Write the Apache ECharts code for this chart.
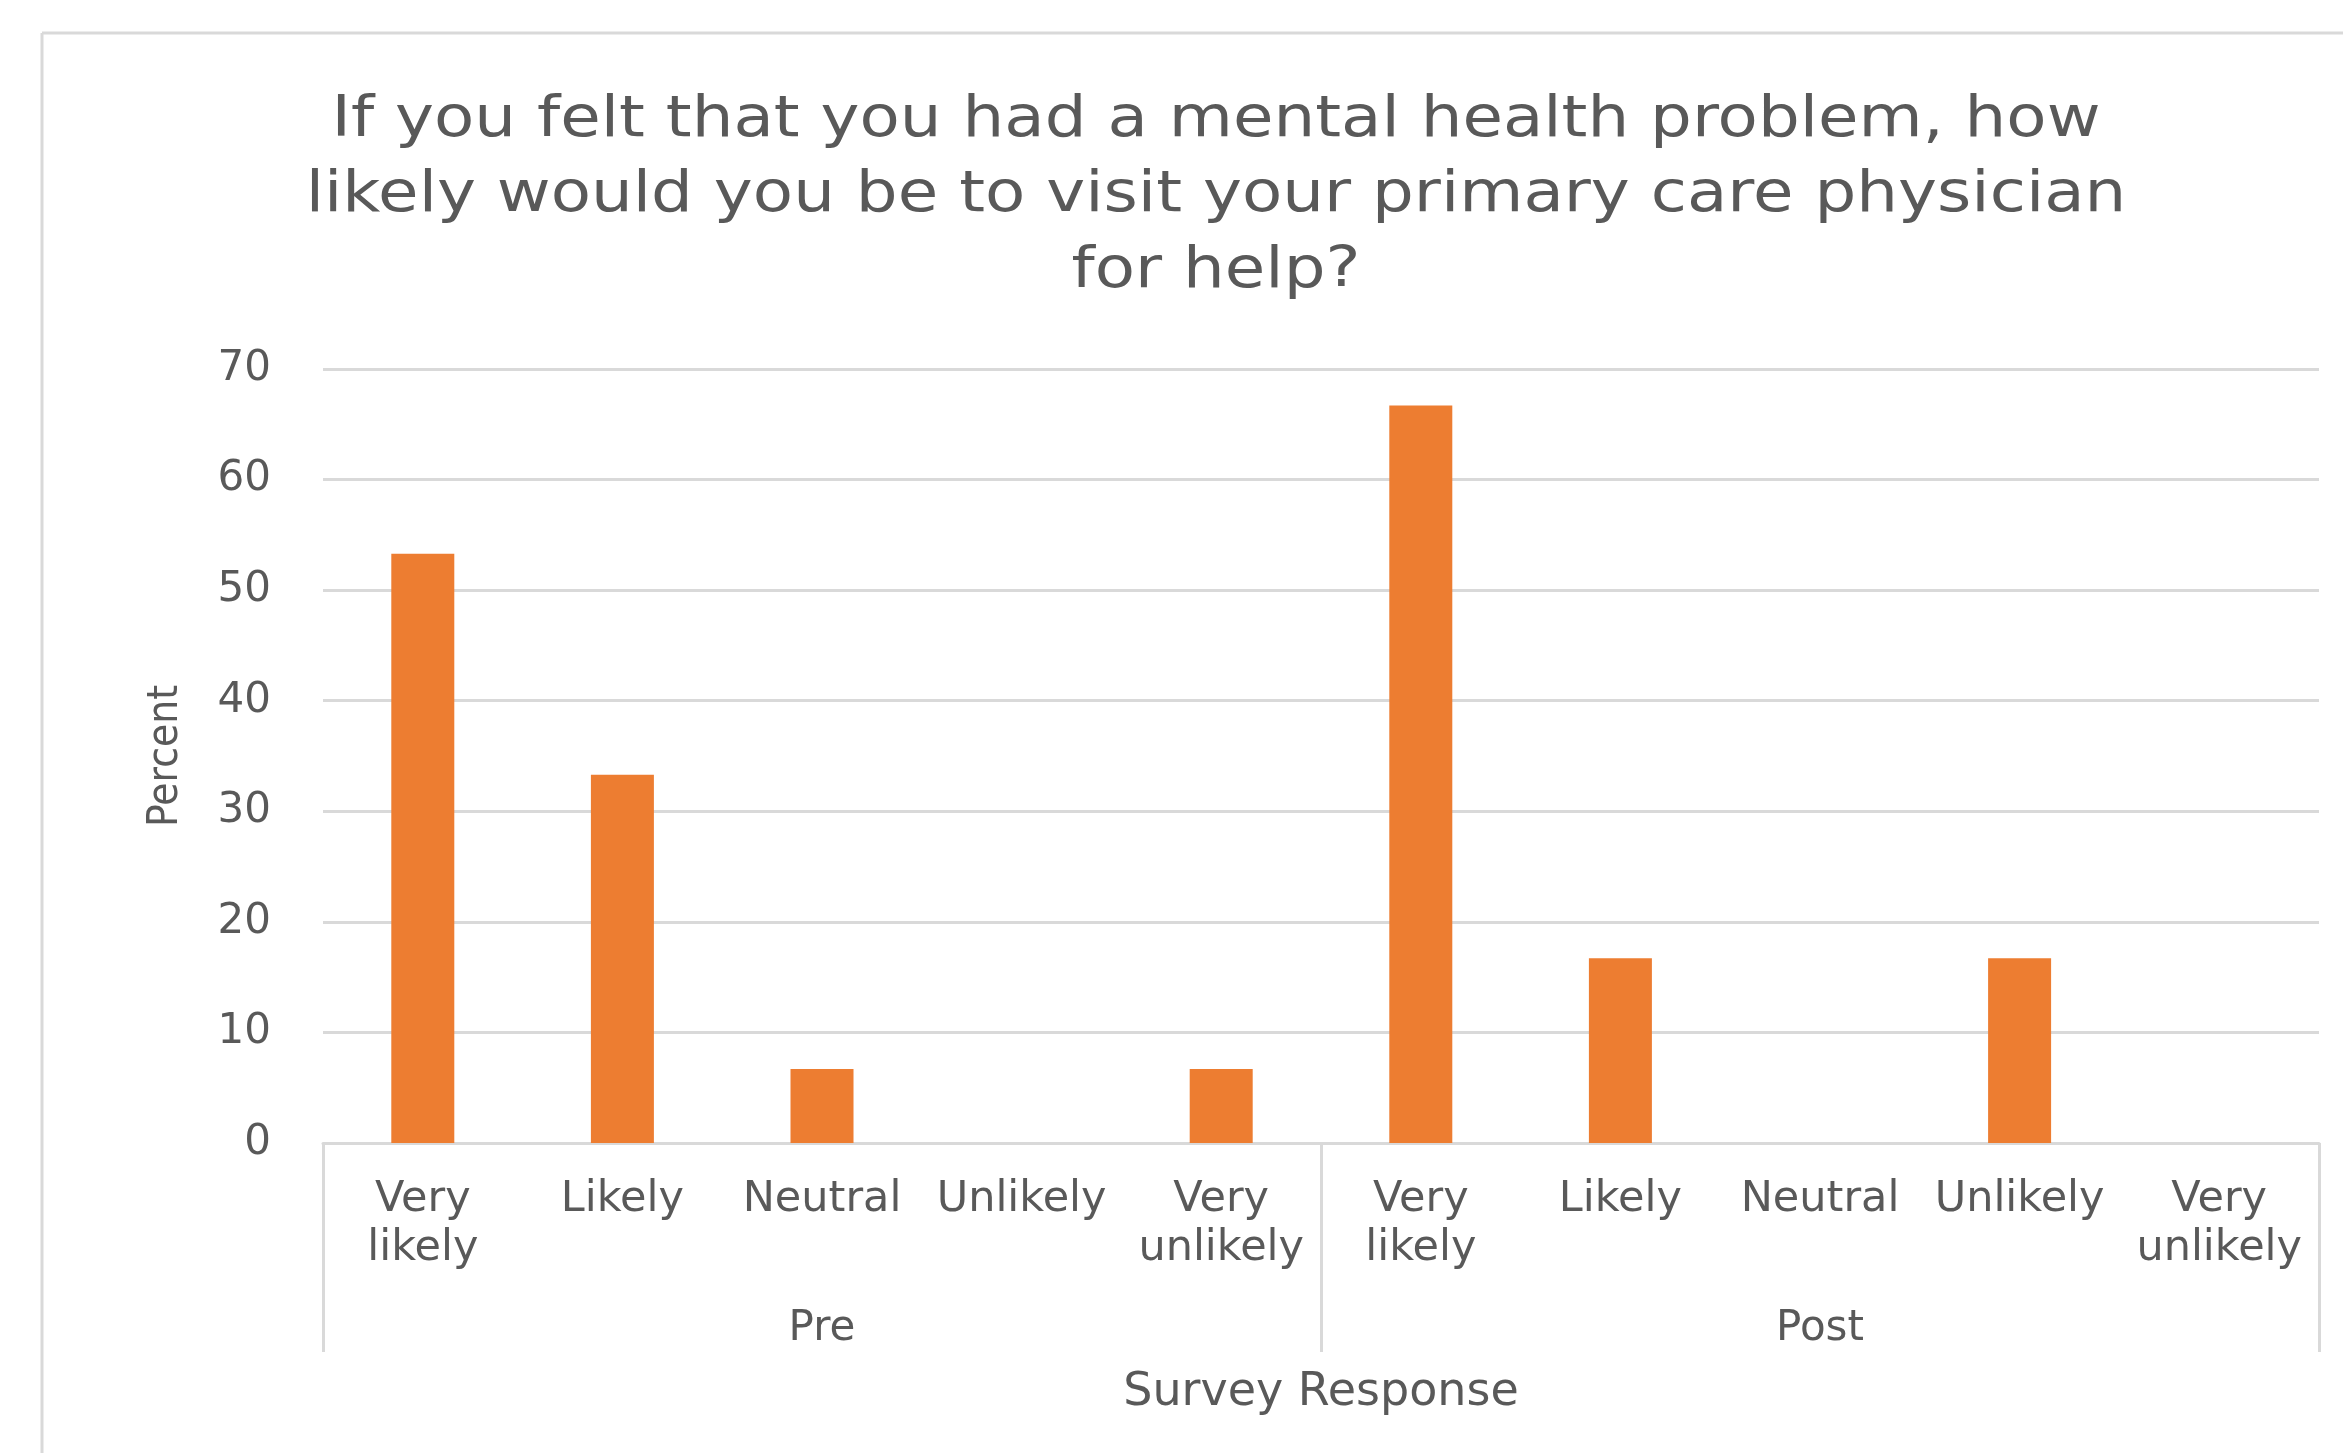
<!DOCTYPE html>
<html>
<head>
<meta charset="utf-8">
<script src="https://cdn.jsdelivr.net/npm/echarts@6/dist/echarts.min.js"></script>
<style>
html,body{margin:0;padding:0;background:#fff;}
#c{width:2343px;height:1453px;}
</style>
</head>
<body>
<div id="c"></div>
<script>
var titleText = "If you felt that you had a mental health problem, how\nlikely would you be to visit your primary care physician\nfor help?";
var categories = ["Very\nlikely", "Likely", "Neutral", "Unlikely", "Very\nunlikely",
                  "Very\nlikely", "Likely", "Neutral", "Unlikely", "Very\nunlikely"];
var groups = ["Pre", "Post"];
var percentValues = [53.3, 33.3, 6.7, 0, 6.7, 66.7, 16.7, 0, 16.7, 0];
var yTicks = { min: 0, max: 70, interval: 10 };

var gray = "#595959";
var font = "DejaVu Sans";
var chart = echarts.init(document.getElementById("c"), null, { renderer: "canvas" });
chart.setOption({
  backgroundColor: "#fff",
  animation: false,
  graphic: [
    { type: "line", shape: { x1: 42, y1: 33, x2: 2343, y2: 33 }, style: { stroke: "#D9D9D9", lineWidth: 3 } },
    { type: "line", shape: { x1: 42, y1: 33, x2: 42, y2: 1453 }, style: { stroke: "#D9D9D9", lineWidth: 3 } },
    {
      type: "text",
      x: 1216,
      y: 83,
      scaleX: 1.22,
      scaleY: 1.04,
      style: {
        text: titleText,
        x: 0, y: 0,
        align: "center",
        verticalAlign: "top",
        fontFamily: font,
        fontSize: 54,
        lineHeight: 73,
        fill: gray
      }
    }
  ],
  grid: { left: 323, right: 24, top: 369, bottom: 310, containLabel: false },
  xAxis: [
    {
      type: "category",
      data: categories,
      axisLine: { show: true, lineStyle: { color: "#D9D9D9", width: 3 } },
      axisTick: { show: false },
      axisLabel: { interval: 0, margin: 32, fontFamily: font, fontSize: 43, color: gray, lineHeight: 49 },
      splitLine: { show: false }
    },
    {
      type: "category",
      data: groups,
      position: "bottom",
      axisLine: { show: false },
      axisTick: { show: true, length: 209, lineStyle: { color: "#D9D9D9", width: 3 } },
      axisLabel: { interval: 0, margin: 165, fontFamily: font, fontSize: 42, color: gray },
      name: "Survey Response",
      nameLocation: "middle",
      nameGap: 227,
      nameTextStyle: { fontFamily: font, fontSize: 46, color: gray }
    }
  ],
  yAxis: {
    type: "value",
    min: yTicks.min,
    max: yTicks.max,
    interval: yTicks.interval,
    axisLine: { show: false },
    axisTick: { show: false },
    axisLabel: { margin: 52, fontFamily: font, fontSize: 42, color: gray, padding: [4, 0, 0, 0] },
    splitLine: { show: true, lineStyle: { color: "#D9D9D9", width: 3 } },
    name: "Percent",
    nameLocation: "middle",
    nameGap: 136,
    nameRotate: 90,
    nameTextStyle: { fontFamily: "'DejaVu Sans Condensed', 'DejaVu Sans'", fontSize: 42, color: gray }
  },
  series: [{
    type: "bar",
    data: percentValues,
    xAxisIndex: 0,
    barWidth: 63,
    itemStyle: { color: "#ED7D31" }
  }]
});
</script>
</body>
</html>
